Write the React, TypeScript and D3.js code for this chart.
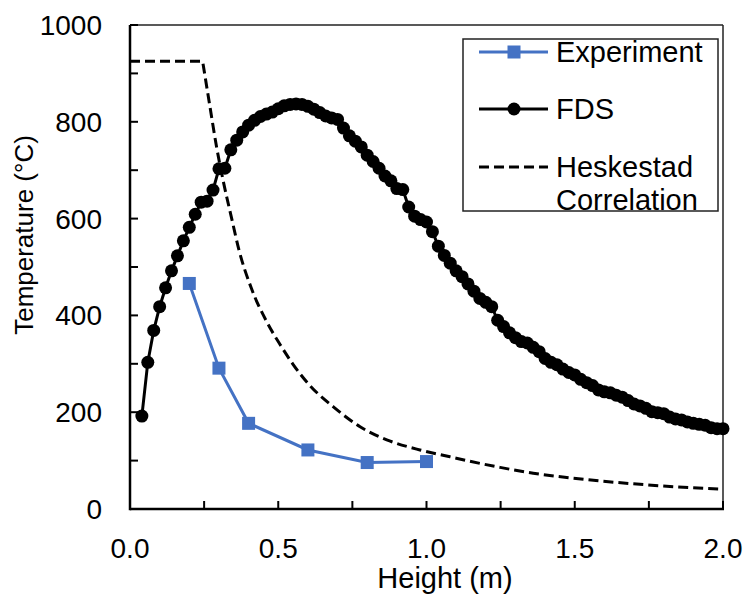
import React from "react";
import * as d3 from "d3";

const expX = [0.2, 0.3, 0.4, 0.6, 0.8, 1.0];
const expY = [466, 291, 177, 122, 96, 98];

const fdsX = [
  0.04, 0.06, 0.08, 0.1, 0.12, 0.14, 0.16, 0.18, 0.2, 0.22, 0.24, 0.26, 0.28, 0.3, 0.32, 0.34, 0.36, 0.38, 0.4,
  0.42, 0.44, 0.46, 0.48, 0.5, 0.52, 0.54, 0.56, 0.58, 0.6, 0.62, 0.64, 0.66, 0.68, 0.7, 0.72, 0.74, 0.76,
  0.78, 0.8, 0.82, 0.84, 0.86, 0.88, 0.9, 0.92, 0.94, 0.96, 0.98, 1.0, 1.02, 1.04, 1.06, 1.08, 1.1, 1.12,
  1.14, 1.16, 1.18, 1.2, 1.22, 1.24, 1.26, 1.28, 1.3, 1.32, 1.34, 1.36, 1.38, 1.4, 1.42, 1.44, 1.46, 1.48,
  1.5, 1.52, 1.54, 1.56, 1.58, 1.6, 1.62, 1.64, 1.66, 1.68, 1.7, 1.72, 1.74, 1.76, 1.78, 1.8, 1.82, 1.84,
  1.86, 1.88, 1.9, 1.92, 1.94, 1.96, 1.98, 2.0,
];
const fdsY = [
  192, 303, 369, 418, 457, 492, 523, 554, 582, 609, 634, 636, 659, 703, 704, 742, 762, 779, 793,
  803, 811, 816, 820, 827, 833, 836, 837, 836, 832, 826, 819, 812, 808, 805, 787, 771, 760,
  748, 731, 718, 704, 688, 678, 662, 660, 624, 605, 598, 593, 573, 543, 524, 508, 492, 480,
  465, 450, 435, 427, 418, 390, 377, 364, 354, 346, 343, 334, 325, 311, 303, 298, 289, 282,
  277, 268, 261, 255, 246, 242, 240, 235, 231, 224, 217, 213, 208, 201, 199, 197, 190, 186,
  184, 180, 177, 175, 173, 168, 166, 166,
];

const hesX = [0.0, 0.245, 0.27, 0.292, 0.315, 0.343, 0.368, 0.41, 0.461, 0.506, 0.551, 0.607, 0.686, 0.776, 0.866, 0.978, 1.079, 1.136, 1.248, 1.36, 1.473, 1.585, 1.698, 1.81, 2.0];
const hesY = [925, 925, 830, 748, 676, 600, 534, 455, 387, 340, 298, 255, 211, 170, 143, 122, 108, 100, 86, 74, 65, 58, 52, 47, 41];

const xTicks = [0, 0.5, 1.0, 1.5, 2.0];
const xMinor = [0.25, 0.75, 1.25, 1.75];
const yTicks = [0, 200, 400, 600, 800, 1000];
const yMinor = [100, 300, 500, 700, 900];

const seriesNames = ["Experiment", "FDS", "Heskestad", "Correlation"];

const BLUE = "#4472C4";
const FONT = "'Liberation Sans', Arial, sans-serif";

export default function App() {
  const x = d3.scaleLinear().domain([0, 2]).range([130, 723]);
  const y = d3.scaleLinear().domain([0, 1000]).range([509, 25]);

  const line = d3
    .line<[number, number]>()
    .x((d) => x(d[0]))
    .y((d) => y(d[1]));
  const smooth = d3
    .line<[number, number]>()
    .x((d) => x(d[0]))
    .y((d) => y(d[1]))
    .curve(d3.curveMonotoneX);

  const expPts: [number, number][] = expX.map((v, i) => [v, expY[i]]);
  const fdsPts: [number, number][] = fdsX.map((v, i) => [v, fdsY[i]]);
  const hesFlat: [number, number][] = [
    [hesX[0], hesY[0]],
    [hesX[1], hesY[1]],
  ];
  const hesCurve: [number, number][] = hesX.slice(1).map((v, i) => [v, hesY[i + 1]]);
  const hesPath = (line(hesFlat) || "") + (smooth(hesCurve) || "").replace(/^M/, "L");

  return (
    <svg
      width={747}
      height={597}
      style={{ position: "absolute", left: 0, top: 0, background: "#fff" }}
      fontFamily={FONT}
    >
      <rect x={0} y={0} width={747} height={597} fill="#fff" />
      {/* frame top/right */}
      <line x1={x(0)} x2={x(2)} y1={y(1000)} y2={y(1000)} stroke="#222" strokeWidth={1.5} />
      <line x1={x(2)} x2={x(2)} y1={y(1000)} y2={y(0)} stroke="#222" strokeWidth={1.5} />

      {/* series */}
      <path d={line(expPts) || ""} fill="none" stroke={BLUE} strokeWidth={3} />
      {expPts.map((p, i) => (
        <rect key={"e" + i} x={x(p[0]) - 6.5} y={y(p[1]) - 6.5} width={13} height={13} fill={BLUE} />
      ))}
      <path d={line(fdsPts) || ""} fill="none" stroke="#000" strokeWidth={3} />
      {fdsPts.map((p, i) => (
        <circle key={"f" + i} cx={x(p[0])} cy={y(p[1])} r={6.5} fill="#000" />
      ))}
      <path d={hesPath} fill="none" stroke="#000" strokeWidth={3} strokeDasharray="10,5" />

      {/* axes */}
      <line x1={x(0)} x2={x(2) + 1} y1={y(0)} y2={y(0)} stroke="#000" strokeWidth={2.5} />
      <line x1={x(0)} x2={x(0)} y1={y(0) + 1.2} y2={y(1000)} stroke="#000" strokeWidth={2.5} />
      {[...xTicks, ...xMinor].map((t) => (
        <line key={"xt" + t} x1={x(t)} x2={x(t)} y1={y(0)} y2={y(0) - 8} stroke="#000" strokeWidth={2} />
      ))}
      {[...yTicks, ...yMinor].map((t) => (
        <line key={"yt" + t} x1={x(0)} x2={x(0) + 8} y1={y(t)} y2={y(t)} stroke="#000" strokeWidth={2} />
      ))}
      {xTicks.map((t) => (
        <text key={"xl" + t} x={x(t)} y={y(0) + 49} fontSize={28} textAnchor="middle" fill="#000">
          {d3.format(".1f")(t)}
        </text>
      ))}
      {yTicks.map((t) => (
        <text key={"yl" + t} x={102} y={y(t) + 10} fontSize={28} textAnchor="end" fill="#000">
          {t}
        </text>
      ))}
      <text x={445} y={588} fontSize={29} textAnchor="middle" fill="#000">
        Height (m)
      </text>
      <text
        transform={`translate(33,235) rotate(-90)`}
        fontSize={26}
        textAnchor="middle"
        fill="#000"
      >
        Temperature (°C)
      </text>

      {/* legend */}
      <rect x={463} y={39} width={255} height={172} fill="#fff" stroke="#222" strokeWidth={1.5} />
      <line x1={479} x2={548} y1={52} y2={52} stroke={BLUE} strokeWidth={3} />
      <rect x={514 - 6.5} y={52 - 6.5} width={13} height={13} fill={BLUE} />
      <text x={556} y={62} fontSize={29} fill="#000">
        {seriesNames[0]}
      </text>
      <line x1={479} x2={548} y1={109} y2={109} stroke="#000" strokeWidth={3} />
      <circle cx={514} cy={109} r={6.5} fill="#000" />
      <text x={556} y={119} fontSize={29} fill="#000">
        {seriesNames[1]}
      </text>
      <line x1={479} x2={548} y1={167} y2={167} stroke="#000" strokeWidth={3} strokeDasharray="10,5" />
      <text x={556} y={177} fontSize={29} fill="#000">
        {seriesNames[2]}
      </text>
      <text x={556} y={210} fontSize={29} fill="#000">
        {seriesNames[3]}
      </text>
    </svg>
  );
}
